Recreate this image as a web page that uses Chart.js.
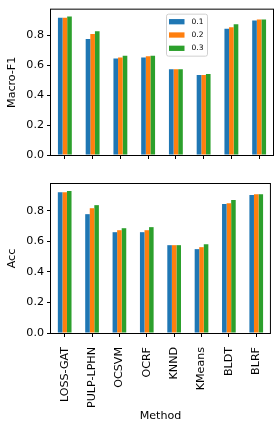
<!DOCTYPE html>
<html>
<head>
<meta charset="utf-8">
<script src="https://cdn.jsdelivr.net/npm/chart.js@4.4.1/dist/chart.umd.min.js"></script>
<style>
  html, body { margin: 0; padding: 0; background: #fff; }
  #wrap { position: relative; width: 280px; height: 429px; }
  canvas { position: absolute; left: 0; }
  #topChart { top: 0; }
  #bottomChart { top: 165px; }
</style>
</head>
<body>
<div id="wrap">
  <canvas id="topChart" width="280" height="165"></canvas>
  <canvas id="bottomChart" width="280" height="264"></canvas>
</div>
<script>
const methods = ["LOSS-GAT", "PULP-LPHN", "OCSVM", "OCRF", "KNND", "KMeans", "BLDT", "BLRF"];
const seriesLabels = ["0.1", "0.2", "0.3"];
const seriesColors = ["#1f77b4", "#ff7f0e", "#2ca02c"];

const f1_01 = [0.918, 0.775, 0.645, 0.651, 0.573, 0.534, 0.843, 0.899];
const f1_02 = [0.918, 0.808, 0.651, 0.660, 0.573, 0.534, 0.853, 0.906];
const f1_03 = [0.925, 0.827, 0.664, 0.664, 0.573, 0.541, 0.873, 0.906];

const acc_01 = [0.922, 0.778, 0.660, 0.660, 0.575, 0.549, 0.844, 0.903];
const acc_02 = [0.922, 0.817, 0.673, 0.673, 0.575, 0.562, 0.850, 0.909];
const acc_03 = [0.929, 0.837, 0.686, 0.693, 0.575, 0.581, 0.870, 0.909];

const yTicks = [0, 0.2, 0.4, 0.6, 0.8];

const FONT = "'DejaVu Sans', sans-serif";
Chart.defaults.font.family = FONT;
Chart.defaults.color = "#000";

// black box around the plot area, like matplotlib spines
const framePlugin = {
  id: "frame",
  afterDraw(chart) {
    const { ctx, chartArea: a } = chart;
    ctx.save();
    ctx.strokeStyle = "#000";
    ctx.lineWidth = 1;
    ctx.strokeRect(a.left - 0.5, a.top - 0.5, a.right - a.left + 1, a.bottom - a.top + 1);
    ctx.restore();
  }
};

// small boxed legend inside the top plot
const boxLegend = {
  id: "boxLegend",
  afterDraw(chart, args, opts) {
    if (!opts.show) return;
    const { ctx, chartArea: a } = chart;
    const x = a.left + 115, y = a.top + 4, w = 41, h = 42;
    ctx.save();
    ctx.fillStyle = "rgba(255,255,255,0.8)";
    ctx.strokeStyle = "#d0d0d0";
    ctx.lineWidth = 1;
    ctx.beginPath();
    ctx.roundRect(x + 0.5, y + 0.5, w, h, 2);
    ctx.fill();
    ctx.stroke();
    ctx.font = "7.5px " + FONT;
    ctx.textBaseline = "middle";
    chart.data.datasets.forEach((ds, i) => {
      const cy = y + 8 + i * 13.3;
      ctx.fillStyle = ds.backgroundColor;
      ctx.fillRect(x + 3, cy - 2.6, 15.5, 5.3);
      ctx.fillStyle = "#000";
      ctx.fillText(ds.label, x + 25.5, cy);
    });
    ctx.restore();
  }
};

function makeChart(id, values, yTitle, opts) {
  const ymax = Math.max(...values.flat()) * 1.05;
  return new Chart(document.getElementById(id), {
    type: "bar",
    data: {
      labels: methods,
      datasets: seriesLabels.map((lab, i) => ({
        label: lab,
        data: values[i],
        backgroundColor: seriesColors[i],
        categoryPercentage: 0.5,
        barPercentage: 1.0,
        borderWidth: 0
      }))
    },
    options: {
      responsive: false,
      animation: false,
      devicePixelRatio: 1,
      layout: { padding: { top: opts.padTop, right: 7, left: 0, bottom: 0 } },
      plugins: {
        legend: { display: false },
        tooltip: { enabled: false },
        boxLegend: { show: opts.legend }
      },
      scales: {
        x: {
          grid: { drawOnChartArea: false, offset: false, color: "#000", tickLength: 4, tickWidth: 1 },
          border: { display: false },
          ticks: {
            display: opts.xLabels,
            autoSkip: false,
            maxRotation: 90,
            minRotation: 90,
            padding: 10,
            font: { size: 11.1 },
            color: "#000"
          },
          title: {
            display: opts.xLabels,
            text: "Method",
            font: { size: 11.1 },
            color: "#000",
            padding: { top: 0, bottom: 6 }
          },
          afterFit(scale) { scale.height = opts.xHeight; }
        },
        y: {
          min: 0,
          max: ymax,
          grid: { drawOnChartArea: false, color: "#000", tickLength: 4, tickWidth: 1 },
          border: { display: false },
          afterBuildTicks(scale) { scale.ticks = yTicks.map(v => ({ value: v })); },
          ticks: {
            padding: 3,
            font: { size: 11.1 },
            color: "#000",
            callback: v => v.toFixed(1)
          },
          title: {
            display: true,
            text: yTitle,
            font: { size: 11.1 },
            color: "#000",
            padding: { top: 5, bottom: 0 }
          },
          afterFit(scale) { scale.width = 51; }
        }
      }
    },
    plugins: [framePlugin, boxLegend]
  });
}

makeChart("topChart", [f1_01, f1_02, f1_03], "Macro-F1",
  { padTop: 6, xHeight: 10, xLabels: false, legend: true });
makeChart("bottomChart", [acc_01, acc_02, acc_03], "Acc",
  { padTop: 19, xHeight: 96, xLabels: true, legend: false });
</script>
</body>
</html>
